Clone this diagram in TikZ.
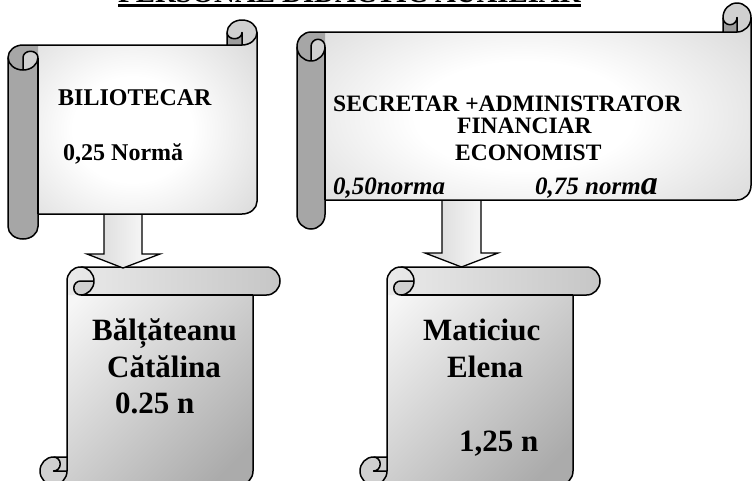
\documentclass[tikz,border=0pt]{standalone}
\usepackage{fontspec}
\setmainfont{Liberation Serif}
\definecolor{rollgray}{HTML}{A6A6A6}
\definecolor{curllight}{HTML}{D0D0D0}
\definecolor{curldark}{HTML}{9C9C9C}
\definecolor{shgray}{HTML}{ADADAD}
\definecolor{shgrayd}{HTML}{9A9A9A}
\definecolor{vlight}{HTML}{F6F6F6}
\definecolor{vdark}{HTML}{ABABAB}
\definecolor{barl}{HTML}{EAEAEA}
\definecolor{barr}{HTML}{C6C6C6}
\pgfdeclareradialshading{scrollrad}{\pgfpoint{0bp}{0bp}}{color(0bp)=(white); color(12bp)=(white); color(56bp)=(shgray); color(71bp)=(shgrayd)}
% horizontal scroll: left, right, top, bottom, x-radius, y-radius (y grows downward)
\newcommand\hscroll[6]{%
\pgfmathsetmacro\qL{#1}\pgfmathsetmacro\qR{#2}\pgfmathsetmacro\qT{#3}\pgfmathsetmacro\qB{#4}%
\pgfmathsetmacro\qa{#5}\pgfmathsetmacro\qc{#6}\pgfmathsetmacro\qha{#5/2}\pgfmathsetmacro\qhc{#6/2}%
\pgfmathsetmacro\qyA{#3+#6}\pgfmathsetmacro\qyB{#3+2*#6}\pgfmathsetmacro\qyC{#3+3*#6}\pgfmathsetmacro\qyD{#3+4*#6}%
\pgfmathsetmacro\qyE{#4-2*#6}\pgfmathsetmacro\qyF{#4-#6}\pgfmathsetmacro\qyG{#4-3*#6}%
\pgfmathsetmacro\qxA{#1+#5}\pgfmathsetmacro\qxB{#1+2*#5}\pgfmathsetmacro\qxC{#2-2*#5}\pgfmathsetmacro\qxD{#2-#5}%
\shade[shading=scrollrad] (\qL,\qyC) arc[start angle=180,delta angle=-90,x radius=\qa pt,y radius=\qc pt] -- (\qxC,\qyB) -- (\qxC,\qyA) arc[start angle=180,delta angle=-180,x radius=\qa pt,y radius=\qc pt] -- (\qR,\qyG) arc[start angle=0,delta angle=-90,x radius=\qa pt,y radius=\qc pt] -- (\qxB,\qyE) -- (\qxB,\qyF) arc[start angle=0,delta angle=-180,x radius=\qa pt,y radius=\qc pt] -- cycle;
\fill[rollgray] (\qL,\qyC) arc[start angle=180,delta angle=-90,x radius=\qa pt,y radius=\qc pt] -- (\qxB,\qyB) -- (\qxB,\qyF) arc[start angle=0,delta angle=-180,x radius=\qa pt,y radius=\qc pt] -- cycle;
\fill[curllight] (\qxA,\qyD) arc[start angle=-90,delta angle=90,x radius=\qa pt,y radius=\qc pt] arc[start angle=0,delta angle=180,x radius=\qha pt,y radius=\qhc pt] -- cycle;
\fill[curldark] (\qxC,\qyA) rectangle (\qxD,\qyB);
\fill[curllight] (\qxD,\qyB) arc[start angle=-90,delta angle=270,x radius=\qa pt,y radius=\qc pt] arc[start angle=180,delta angle=180,x radius=\qha pt,y radius=\qhc pt] -- cycle;
\draw (\qL,\qyC) arc[start angle=180,delta angle=-90,x radius=\qa pt,y radius=\qc pt] -- (\qxC,\qyB) -- (\qxC,\qyA) arc[start angle=180,delta angle=-180,x radius=\qa pt,y radius=\qc pt] -- (\qR,\qyG) arc[start angle=0,delta angle=-90,x radius=\qa pt,y radius=\qc pt] -- (\qxB,\qyE) -- (\qxB,\qyF) arc[start angle=0,delta angle=-180,x radius=\qa pt,y radius=\qc pt] -- cycle;
\draw (\qxC,\qyB) -- (\qxD,\qyB) arc[start angle=-90,delta angle=90,x radius=\qa pt,y radius=\qc pt];
\draw (\qxD,\qyB) -- (\qxD,\qyA) arc[start angle=0,delta angle=-180,x radius=\qha pt,y radius=\qhc pt];
\draw (\qxA,\qyD) -- (\qxA,\qyC) arc[start angle=180,delta angle=-180,x radius=\qha pt,y radius=\qhc pt] arc[start angle=0,delta angle=-180,x radius=\qa pt,y radius=\qc pt];
\draw (\qxB,\qyC) -- (\qxB,\qyE);
}
% vertical scroll: left, right, top, bottom, x-radius, y-radius (y grows downward)
\newcommand\vscroll[6]{%
\pgfmathsetmacro\qL{#1}\pgfmathsetmacro\qR{#2}\pgfmathsetmacro\qT{#3}\pgfmathsetmacro\qB{#4}%
\pgfmathsetmacro\qa{#5}\pgfmathsetmacro\qc{#6}\pgfmathsetmacro\qha{#5/2}\pgfmathsetmacro\qhc{#6/2}%
\pgfmathsetmacro\qxA{#1+#5}\pgfmathsetmacro\qxB{#1+2*#5}\pgfmathsetmacro\qxC{#1+3*#5}\pgfmathsetmacro\qxD{#1+4*#5}%
\pgfmathsetmacro\qxE{#2-2*#5}\pgfmathsetmacro\qxF{#2-#5}\pgfmathsetmacro\qxG{#2-3*#5}%
\pgfmathsetmacro\qyA{#3+#6}\pgfmathsetmacro\qyB{#3+2*#6}\pgfmathsetmacro\qyC{#4-2*#6}\pgfmathsetmacro\qyD{#4-#6}%
\shade[top color=vlight,bottom color=vdark,shading angle=45] (\qxB,\qyC) -- (\qxB,\qyA) arc[start angle=180,delta angle=-90,x radius=\qa pt,y radius=\qc pt] -- (\qxF,\qT) arc[start angle=90,delta angle=-180,x radius=\qa pt,y radius=\qc pt] -- (\qxE,\qyB) -- (\qxE,\qyD) arc[start angle=0,delta angle=-90,x radius=\qa pt,y radius=\qc pt] -- (\qxA,\qB) arc[start angle=-90,delta angle=-180,x radius=\qa pt,y radius=\qc pt] -- cycle;
\shade[left color=barl,right color=barr] (\qxB,\qyB) -- (\qxB,\qyA) arc[start angle=180,delta angle=-90,x radius=\qa pt,y radius=\qc pt] -- (\qxF,\qT) arc[start angle=90,delta angle=-180,x radius=\qa pt,y radius=\qc pt] -- cycle;
\fill[curllight] (\qxC,\qyA) -- (\qxD,\qyA) arc[start angle=0,delta angle=-90,x radius=\qa pt,y radius=\qc pt] arc[start angle=-90,delta angle=-180,x radius=\qha pt,y radius=\qhc pt] -- cycle;
\fill[curllight] (\qxA,\qyC) -- (\qxB,\qyC) -- (\qxB,\qyD) arc[start angle=0,delta angle=-90,x radius=\qa pt,y radius=\qc pt] arc[start angle=-90,delta angle=-180,x radius=\qa pt,y radius=\qc pt] -- cycle;
\draw (\qxB,\qyC) -- (\qxB,\qyA) arc[start angle=180,delta angle=-90,x radius=\qa pt,y radius=\qc pt] -- (\qxF,\qT) arc[start angle=90,delta angle=-180,x radius=\qa pt,y radius=\qc pt] -- (\qxE,\qyB) -- (\qxE,\qyD) arc[start angle=0,delta angle=-90,x radius=\qa pt,y radius=\qc pt] -- (\qxA,\qB) arc[start angle=-90,delta angle=-180,x radius=\qa pt,y radius=\qc pt] -- cycle;
\draw (\qxC,\qT) arc[start angle=90,delta angle=-180,x radius=\qa pt,y radius=\qc pt] arc[start angle=-90,delta angle=-180,x radius=\qha pt,y radius=\qhc pt] -- (\qxD,\qyA);
\draw (\qxE,\qyB) -- (\qxC,\qyB);
\draw (\qxA,\qyC) arc[start angle=90,delta angle=-180,x radius=\qha pt,y radius=\qhc pt] -- (\qxB,\qyD);
\draw (\qxA,\qB) arc[start angle=-90,delta angle=90,x radius=\qa pt,y radius=\qc pt] -- (\qxB,\qyC);
}
\tikzset{
  scrollline/.style={line width=1.5pt,line join=round},
  blockarrow/.style={draw,line width=1.3pt,line join=miter,left color=black!16,right color=white},
  tA/.style={anchor=base west,inner sep=0pt,font=\fontsize{24}{28}\selectfont\bfseries},
  tB/.style={anchor=base west,inner sep=0pt,font=\fontsize{23.5}{26}\selectfont\bfseries},
  tBi/.style={anchor=base west,inner sep=0pt,font=\fontsize{25}{28}\selectfont\bfseries\itshape},
  tC/.style={anchor=base west,inner sep=0pt,font=\fontsize{31}{36}\selectfont\bfseries},
  tT/.style={anchor=base west,inner sep=0pt,font=\fontsize{28.8}{32}\selectfont\bfseries}
}
\begin{document}
\begin{tikzpicture}[x=1pt,y=-1pt]
\useasboundingbox (0,0) rectangle (752,480);
% title (cut off at the top edge)
\node[tT] (title) at (118,2) {PERSONAL DIDACTIC AUXILIAR};
\fill (118,3.5) rectangle (581,7);
% lower scrolls
\begin{scope}[scrollline]
\vscroll{40}{280}{267}{485}{13.5}{14}
\vscroll{360}{600}{267}{485}{13.5}{14}
\end{scope}
\coordinate (lsrc) at (123,205);
\coordinate (rsrc) at (461.5,195);
\coordinate (ltip) at (123,268);
\coordinate (rtip) at (461.5,267);
% arrows
\draw[blockarrow] ([xshift=-19pt]lsrc) -- ([xshift=-19pt]lsrc |- 0,254) -- ([xshift=-36pt]ltip |- 0,254) -- (ltip) -- ([xshift=37pt]ltip |- 0,254) -- ([xshift=19pt]lsrc |- 0,254) -- ([xshift=19pt]lsrc) -- cycle;
\draw[blockarrow] ([xshift=-19.5pt]rsrc) -- ([xshift=-19.5pt]rsrc |- 0,253) -- ([xshift=-36.5pt]rtip |- 0,253) -- (rtip) -- ([xshift=36.5pt]rtip |- 0,253) -- ([xshift=19.5pt]rsrc |- 0,253) -- ([xshift=19.5pt]rsrc) -- cycle;
% upper scrolls
\begin{scope}[scrollline]
\hscroll{8}{257}{20}{239}{15}{12.5}
\hscroll{297}{751}{3}{229}{14}{14.5}
\end{scope}
% texts
\node[tA] (bib) at (58,105) {BILIOTECAR};
\node[tA] (bibn) at (63,160) {0,25 Normă};
\node[tB] (sec) at (333,111) {SECRETAR +ADMINISTRATOR};
\node[tB] (fin) at (457,133) {FINANCIAR};
\node[tB] (eco) at (455,160) {ECONOMIST};
\node[tBi] (n50) at (333,194) {0,50norma};
\node[tBi] (n75) at (535,194) {0,75 norm{\fontsize{34}{36}\selectfont a}};
\node[tC] (bal) at (92,340) {Bălțăteanu};
\node[tC] (cat) at (107,377) {Cătălina};
\node[tC] (n25) at (115,413) {0.25 n};
\node[tC] (mat) at (423,340) {Maticiuc};
\node[tC] (ele) at (447,377) {Elena};
\node[tC] (n125) at (459,451) {1,25 n};
\end{tikzpicture}
\end{document}
